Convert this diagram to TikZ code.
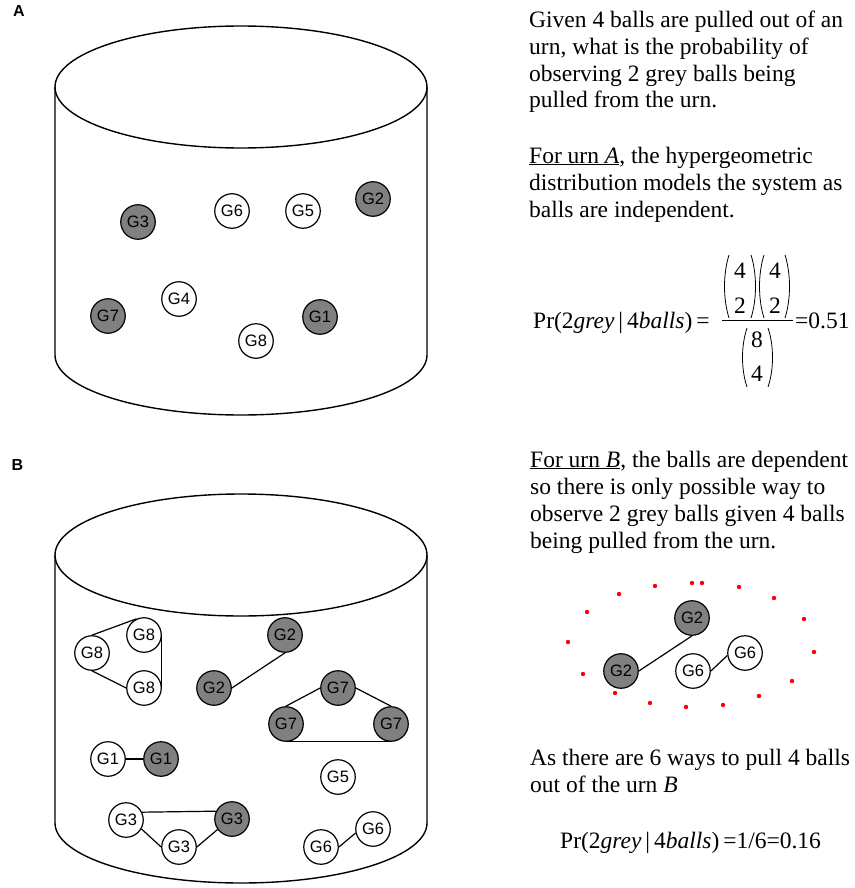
\documentclass[tikz,border=0pt]{standalone}
\usepackage{fontspec}
\setmainfont{Liberation Serif}
\newfontfamily\ballfont{Liberation Sans}
\definecolor{ballgrey}{RGB}{128,128,128}
\newcommand\mylp[3]{\draw[paren] (#1+5,#2) .. controls (#1-1,#2+0.3*#3-0.3*#2) and (#1-1,#3-0.3*#3+0.3*#2) .. (#1+5,#3);}
\newcommand\myrp[3]{\draw[paren] (#1-5,#2) .. controls (#1+1,#2+0.3*#3-0.3*#2) and (#1+1,#3-0.3*#3+0.3*#2) .. (#1-5,#3);}
\tikzset{
  ball/.style={circle, draw, line width=1.2pt, minimum size=34.5pt, inner sep=0pt, fill=white,
    font=\ballfont\fontsize{16.5}{17}\selectfont},
  gball/.style={ball, fill=ballgrey},
  urnline/.style={line width=1.4pt},
  link/.style={line width=1.2pt},
  txt/.style={anchor=base west, inner sep=0pt, font=\fontsize{23.5}{26.7}\selectfont},
  num/.style={anchor=base, inner sep=0pt, font=\fontsize{23.5}{26.7}\selectfont},
  paren/.style={line width=0.8pt},
  panel/.style={inner sep=0pt, font=\ballfont\bfseries\fontsize{16}{16}\selectfont},
  reddot/.style={fill=red}
}
\begin{document}
\begin{tikzpicture}[x=1pt, y=-1pt]
\useasboundingbox (0,0) rectangle (854,888);

% ---------- Panel A ----------
\node[panel] (labA) at (19,10.5) {A};
\draw[urnline] (241,87) ellipse[x radius=186, y radius=61];
\draw[urnline] (55,87) -- (55,355) arc[start angle=180, end angle=0, x radius=186, y radius=60] -- (427,87);

\node[gball] (aG3) at (138,222) {G3};
\node[ball]  (aG6) at (232,211) {G6};
\node[ball]  (aG5) at (303,211) {G5};
\node[gball] (aG2) at (373,199) {G2};
\node[ball]  (aG4) at (179,299) {G4};
\node[gball] (aG7) at (108,316) {G7};
\node[gball] (aG1) at (320,317) {G1};
\node[ball]  (aG8) at (256,341) {G8};

\node[txt] (ta1) at (529,28) {Given 4 balls are pulled out of an};
\node[txt] (ta2) at (529,55) {urn, what is the probability of};
\node[txt] (ta3) at (529,82) {observing 2 grey balls being};
\node[txt] (ta4) at (529,108) {pulled from the urn.};
\node[txt] (ta5) at (529,163) {\underline{For urn \textit{A}}, the hypergeometric};
\node[txt] (ta6) at (529,190) {distribution models the system as};
\node[txt] (ta7) at (529,217) {balls are independent.};

% formula A
\node[txt] (fa) at (533,328) {Pr(2\textit{grey}\,|\,4\textit{balls})\,=};
\draw[paren] (722,320) -- (793,320);
\node[num] (n1) at (740,278) {4};
\node[num] (n2) at (740,313) {2};
\node[num] (n3) at (775,278) {4};
\node[num] (n4) at (775,313) {2};
\node[num] (n5) at (757,347) {8};
\node[num] (n6) at (757,381) {4};
\mylp{724}{255}{318}
\myrp{756}{255}{318}
\mylp{759}{255}{318}
\myrp{790}{255}{318}
\mylp{742}{328}{387}
\myrp{773}{328}{387}
\node[txt] (fa2) at (795,328) {=0.51};

% ---------- Panel B ----------
\node[panel] (labB) at (17.5,465) {B};
\draw[urnline] (241,555) ellipse[x radius=186, y radius=61];
\draw[urnline] (55,555) -- (55,823) arc[start angle=180, end angle=0, x radius=186, y radius=60] -- (427,555);

\node[ball]  (g8t) at (144,635) {G8};
\node[ball]  (g8l) at (92,653) {G8};
\node[ball]  (g8b) at (144,688) {G8};
\node[gball] (g2t) at (285,635) {G2};
\node[gball] (g2b) at (214,688) {G2};
\node[gball] (g7t) at (338,688) {G7};
\node[gball] (g7l) at (286,724) {G7};
\node[gball] (g7r) at (391,724) {G7};
\node[ball]  (g1w) at (108,759) {G1};
\node[gball] (g1g) at (161,759) {G1};
\node[ball]  (g5)  at (338,777) {G5};
\node[ball]  (g3l) at (126,820) {G3};
\node[gball] (g3g) at (232,819) {G3};
\node[ball]  (g3b) at (179,847) {G3};
\node[ball]  (g6r) at (373,829) {G6};
\node[ball]  (g6l) at (321,847) {G6};

\draw[link] (g8l.north) -- (g8t.115);
\draw[link] (g8l.south) -- (g8b.west);
\draw[link] (g8t.east) -- (g8b.east);
\draw[link] (g2b.east) -- (g2t.south);
\draw[link] (g7t.west) -- (g7l.north);
\draw[link] (g7t.east) -- (g7r.north);
\draw[link] (g7l.south) -- (g7r.south);
\draw[link] (g1w.east) -- (g1g.west);
\draw[link] (g3l.26) -- (g3g.154);
\draw[link] (g3l.-30) -- (g3b.west);
\draw[link] (g3b.east) -- (g3g.216);
\draw[link] (g6l.east) -- (g6r.193);

\node[txt] (tb1) at (530,467) {\underline{For urn \textit{B}}, the balls are dependent};
\node[txt] (tb2) at (530,494) {so there is only possible way to};
\node[txt] (tb3) at (530,521) {observe 2 grey balls given 4 balls};
\node[txt] (tb4) at (530,548) {being pulled from the urn.};

% right diagram
\foreach \px/\py in {655/586, 692/583, 702/583, 739/587, 774/598, 804/619, 814/652, 792/681,
  759/696, 723/705, 686/707, 650/703, 615/693, 583/674, 568/642, 587/612, 619/594}
  \fill[reddot] (\px,\py) circle[radius=2.2pt];

\node[gball] (r2t) at (692,618) {G2};
\node[gball] (r2b) at (621,671) {G2};
\node[ball]  (r6l) at (693,671) {G6};
\node[ball]  (r6r) at (745,653) {G6};
\draw[link] (r2b.east) -- (r2t.south);
\draw[link] (r6l.east) -- (r6r.188);

\node[txt] (tb5) at (530,765) {As there are 6 ways to pull 4 balls};
\node[txt] (tb6) at (530,792) {out of the urn \textit{B}};
\node[txt] (fb) at (560,848) {Pr(2\textit{grey}\,|\,4\textit{balls})\,=1/6=0.16};
\end{tikzpicture}
\end{document}
